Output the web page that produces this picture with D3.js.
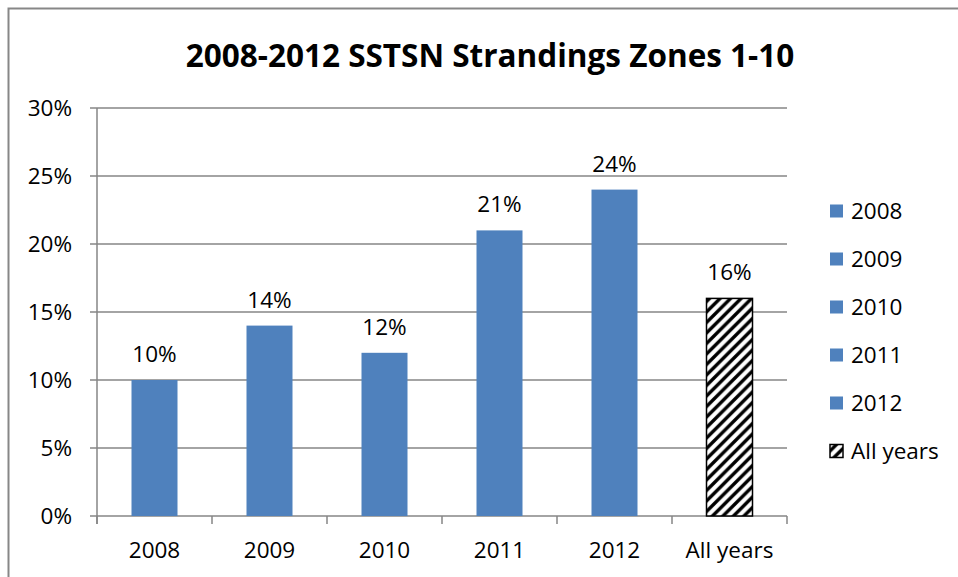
<!DOCTYPE html>
<html><head><meta charset="utf-8">
<script src="https://cdn.jsdelivr.net/npm/d3@7"></script>
<style>
html,body{margin:0;padding:0;background:#fff;}
svg{display:block;}
text{font-family:"Open Sans",sans-serif;fill:#000;}
</style></head>
<body>
<script>
const title = "2008-2012 SSTSN Strandings Zones 1-10";
const categories = ["2008","2009","2010","2011","2012","All years"];
const values = [10,14,12,21,24,16];
const hatched = [false,false,false,false,false,true];
const legendLabels = ["2008","2009","2010","2011","2012","All years"];
const yTicks = [0,5,10,15,20,25,30];

const W=958,H=577;
const svg=d3.select("body").append("svg").attr("width",W).attr("height",H);

const defs=svg.append("defs");
const pat=defs.append("pattern").attr("id","hatch").attr("patternUnits","userSpaceOnUse")
  .attr("width",10.5).attr("height",10.5);
pat.append("rect").attr("width",10.5).attr("height",10.5).attr("fill","#fff");
pat.append("path").attr("d","M-2.625,2.625 L2.625,-2.625 M0,10.5 L10.5,0 M7.875,13.125 L13.125,7.875")
  .attr("stroke","#000").attr("stroke-width",3.4);

// outer chart border (top & left visible)
svg.append("path").attr("d","M8.5,577 L8.5,8.5 L958,8.5").attr("fill","none")
  .attr("stroke","#878787").attr("stroke-width",2);

// title
svg.append("text").attr("x",490).attr("y",67).attr("text-anchor","middle")
  .style("font-weight","bold").style("font-size","31.5px").text(title);

const x=d3.scaleBand().domain(categories).range([97,787]).paddingInner(0.6).paddingOuter(0.3);
const xb=d3.scaleBand().domain(categories).range([97,787]);
const y=d3.scaleLinear().domain([0,30]).range([516,108]);

const grid="#868686";
const fs="22.5px";
// gridlines
svg.append("g").selectAll("line").data(yTicks).join("line")
  .attr("x1",90).attr("x2",787).attr("y1",d=>y(d)).attr("y2",d=>y(d))
  .attr("stroke",grid).attr("stroke-width",1.5);
// y axis line
svg.append("line").attr("x1",97).attr("x2",97).attr("y1",y(30)).attr("y2",524)
  .attr("stroke",grid).attr("stroke-width",1.5);
// x category ticks
const bounds=categories.map(c=>xb(c)).concat([787]);
svg.append("g").selectAll("line").data(bounds).join("line")
  .attr("x1",d=>d).attr("x2",d=>d).attr("y1",516).attr("y2",524)
  .attr("stroke",grid).attr("stroke-width",1.5);

// y labels
svg.append("g").selectAll("text").data(yTicks).join("text")
  .attr("x",72).attr("y",d=>y(d)).attr("dy","0.36em").attr("text-anchor","end")
  .style("font-size",fs).text(d=>d+"%");

// x labels
svg.append("g").selectAll("text").data(categories).join("text")
  .attr("x",d=>xb(d)+xb.bandwidth()/2).attr("y",558).attr("text-anchor","middle")
  .style("font-size",fs).text(d=>d);

// bars
svg.append("g").selectAll("rect").data(categories).join("rect")
  .attr("x",d=>x(d)).attr("width",x.bandwidth())
  .attr("y",(d,i)=>y(values[i])).attr("height",(d,i)=>y(0)-y(values[i]))
  .attr("fill",(d,i)=>hatched[i]?"url(#hatch)":"#4F81BD")
  .attr("stroke",(d,i)=>hatched[i]?"#000":"none").attr("stroke-width",1.5);

// data labels
svg.append("g").selectAll("text").data(categories).join("text")
  .attr("x",d=>x(d)+x.bandwidth()/2).attr("y",(d,i)=>y(values[i])-18)
  .attr("text-anchor","middle").style("font-size",fs).text((d,i)=>values[i]+"%");

// legend
const lg=svg.append("g");
legendLabels.forEach((l,i)=>{
  const cy=211+i*48;
  lg.append("rect").attr("x",830).attr("y",cy-6.5).attr("width",13).attr("height",13)
    .attr("fill",hatched[i]?"url(#hatch)":"#4F81BD")
    .attr("stroke",hatched[i]?"#000":"none").attr("stroke-width",1.5);
  lg.append("text").attr("x",851).attr("y",cy).attr("dy","0.36em")
    .style("font-size",fs).text(l);
});
</script>
</body></html>
